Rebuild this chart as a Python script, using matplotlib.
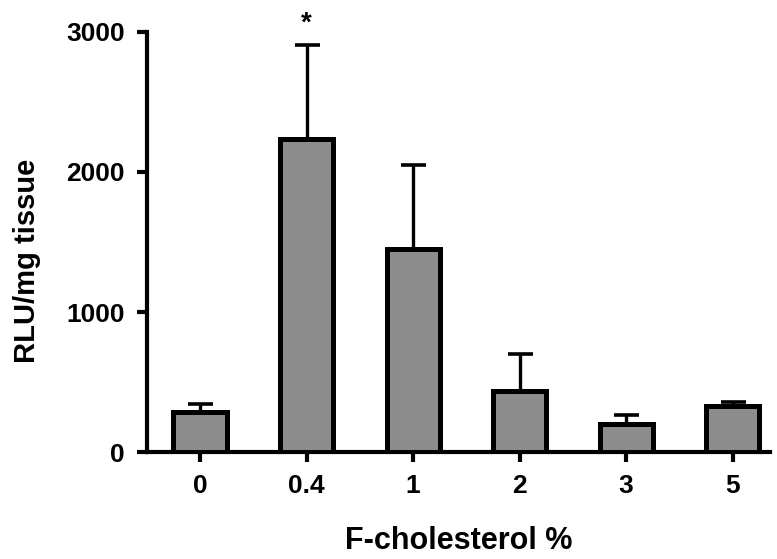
import matplotlib
matplotlib.use("Agg")
import matplotlib.pyplot as plt

plt.rcParams.update({
    "font.family": "Liberation Sans",
    "font.weight": "bold",
})

# data
categories = ["0", "0.4", "1", "2", "3", "5"]
means = [290, 2235, 1450, 436, 205, 328]
errors = [52, 670, 600, 265, 58, 30]
stars = {1: "*"}

BAR_COLOR = "#8c8c8c"
FG = "#000000"

fig = plt.figure(figsize=(7.77, 5.59), dpi=100)
ax = fig.add_axes([0.189, 0.191, 0.802, 0.752])

x = list(range(len(categories)))
ax.bar(x, means, width=0.5, color=BAR_COLOR, edgecolor=FG, linewidth=3.6,
       zorder=3)
ax.errorbar(x, means, yerr=[[0] * len(errors), errors], fmt="none",
            ecolor=FG, elinewidth=2.4, capsize=9, capthick=2.6, zorder=2)

for i, s in stars.items():
    ax.text(x[i], means[i] + errors[i] + 60, s, ha="center", va="bottom",
            fontsize=20, fontweight="bold")

ax.set_xlim(-0.5, 5.35)
ax.set_ylim(0, 3000)
ax.set_yticks([0, 1000, 2000, 3000])
ax.set_xticks(x)
ax.set_xticklabels(categories)

for side in ("top", "right"):
    ax.spines[side].set_visible(False)
for side in ("left", "bottom"):
    ax.spines[side].set_linewidth(3.0)
ax.tick_params(axis="both", direction="out", length=7, width=3.0,
               labelsize=19)
ax.tick_params(axis="y", pad=9)
ax.tick_params(axis="x", pad=9)

ax.set_xlabel("F-cholesterol %", fontsize=22, fontweight="bold", labelpad=20)
ax.set_ylabel("RLU/mg tissue", fontsize=21, fontweight="bold")
ax.yaxis.set_label_coords(-0.17, 0.455)

fig.savefig("out.png", dpi=100, facecolor="white")
